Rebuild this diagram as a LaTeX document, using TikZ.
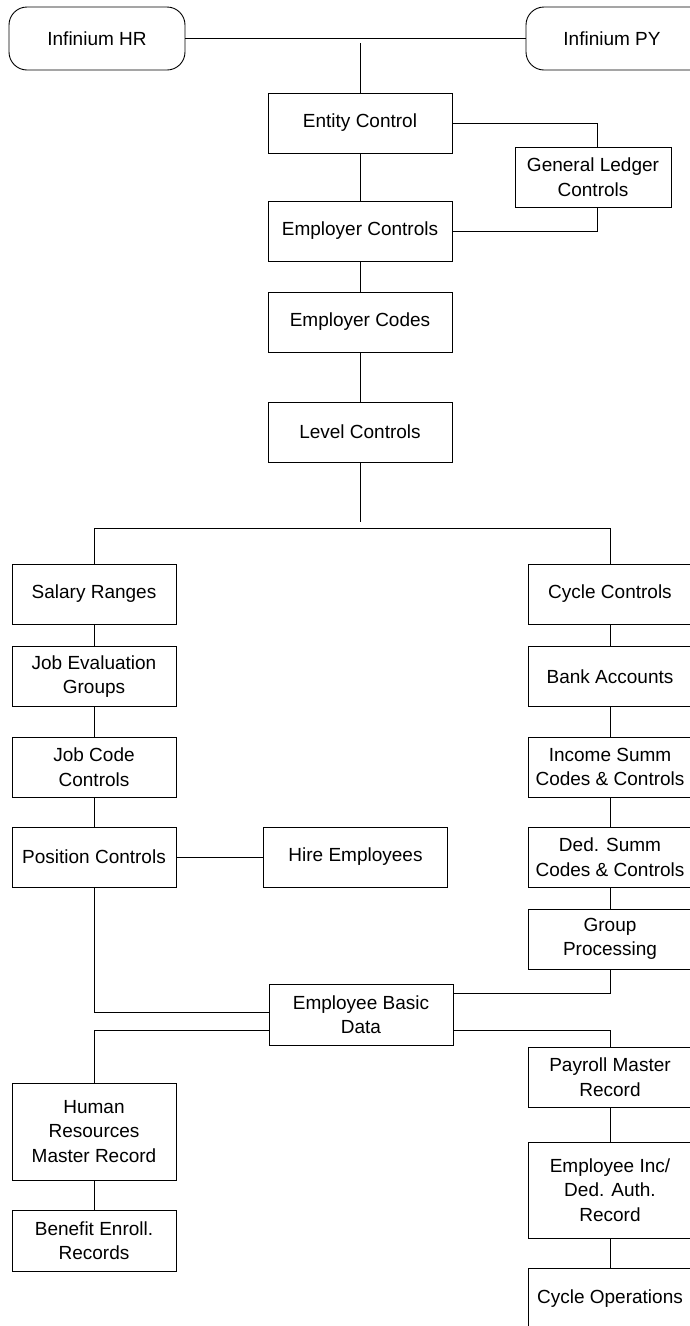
\documentclass[tikz,border=0pt]{standalone}
\usepackage{fontspec}
\setmainfont{Liberation Sans}
\begin{document}
\begin{tikzpicture}[x=1pt,y=-1pt,
  box/.style={draw, line width=0.9pt, inner sep=0pt, align=center,
    minimum height=60pt, font=\fontsize{19}{24.5}\selectfont},
  mid/.style={box, minimum width=184pt},
  lcol/.style={box, minimum width=164pt},
  rcol/.style={box, minimum width=164pt},
  rbox/.style={box, rounded corners=18pt, minimum width=176pt, minimum height=63pt},
  link/.style={line width=0.8pt}]
\useasboundingbox (0,0) rectangle (689,1326);
% top
\node[rbox] (hr) at (97,38.5) {Infinium HR};
\node[rbox, minimum width=200pt] (py) at (626,38.5) {Infinium PY\hspace*{28pt}};
\node[mid] (entity) at (360,123) {Entity Control};
\node[box, minimum width=156pt] (gl) at (593,177) {General Ledger\\Controls};
\node[mid] (employer) at (360,231) {Employer Controls};
\node[mid] (codes) at (360,322) {Employer Codes};
\node[mid] (level) at (360,432) {Level Controls};
% left column
\node[lcol] (salary) at (94,594) {Salary Ranges};
\node[lcol] (jobeval) at (94,676.5) {Job Evaluation\\Groups};
\node[lcol] (jobcode) at (94,767) {Job Code\\Controls};
\node[lcol] (position) at (94,857) {Position Controls};
\node[mid] (hire) at (355.5,857) {Hire Employees};
\node[lcol, minimum height=97pt] (hrmaster) at (94,1131.5) {Human\\Resources\\Master Record};
\node[lcol, minimum height=61pt] (benefit) at (94,1240.5) {Benefit Enroll.\\Records};
% right column
\node[rcol] (cycle) at (610,594) {Cycle Controls};
\node[rcol] (bank) at (610,676.5) {Bank Accounts};
\node[rcol] (income) at (610,767) {Income Summ\\Codes \& Controls};
\node[rcol] (ded) at (610,857) {Ded. Summ\\Codes \& Controls};
\node[rcol] (group) at (610,939) {Group\\Processing};
\node[rcol] (payroll) at (610,1077) {Payroll Master\\Record};
\node[rcol, minimum height=96pt] (empinc) at (610,1190) {Employee Inc/\\Ded. Auth.\\Record};
\node[rcol, minimum height=62pt] (cycleops) at (610,1299) {Cycle Operations};
% centre
\node[mid, minimum height=61pt] (ebd) at (361,1014.5) {Employee Basic\\Data};
% connectors
\coordinate (top) at (360,43);
\coordinate (split) at (360,522);
\coordinate (glx) at (597,0);
\draw[link] (hr) -- (py);
\draw[link] (top) -- (entity.north);
\draw[link] (entity.east) -| (glx |- gl.north);
\draw[link] (glx |- gl.south) |- (employer.east);
\draw[link] (entity) -- (employer);
\draw[link] (employer) -- (codes);
\draw[link] (codes) -- (level);
\draw[link] (level.south) -- (split);
\draw[link] (salary.north) -- (94,528) -- (cycle.north |- 0,528) -- (cycle.north);
\draw[link] (salary) -- (jobeval);
\draw[link] (jobeval) -- (jobcode);
\draw[link] (jobcode) -- (position);
\draw[link] (position) -- (hire);
\draw[link] (cycle) -- (bank);
\draw[link] (bank) -- (income);
\draw[link] (income) -- (ded);
\draw[link] (ded) -- (group);
\draw[link] (position.south) |- (ebd.west |- 0,1012);
\draw[link] (group.south) |- (ebd.east |- 0,993);
\draw[link] (ebd.west |- 0,1030) -| (hrmaster.north);
\draw[link] (ebd.east |- 0,1030) -| (payroll.north);
\draw[link] (hrmaster) -- (benefit);
\draw[link] (payroll) -- (empinc);
\draw[link] (empinc) -- (cycleops);
\end{tikzpicture}
\end{document}
